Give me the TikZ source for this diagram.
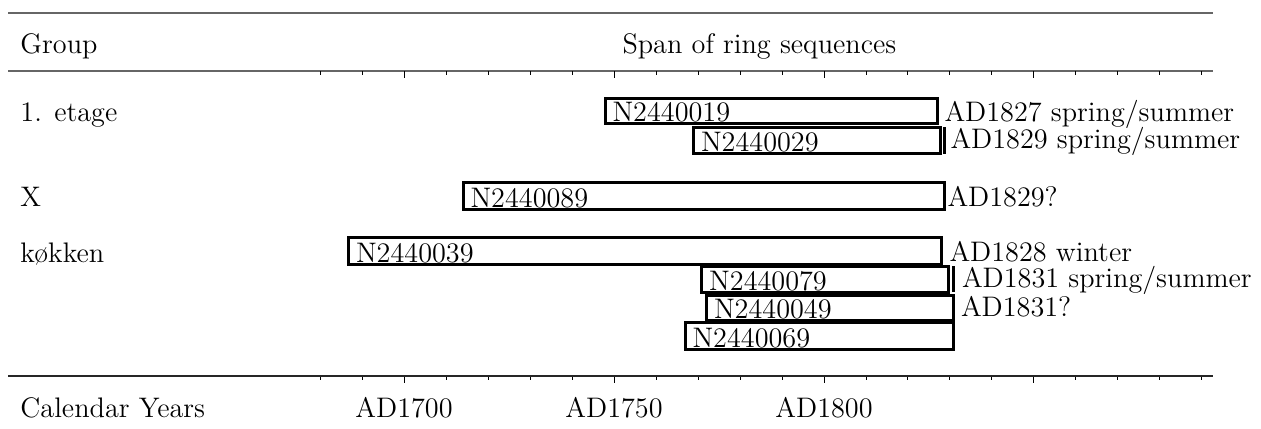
\documentclass[tikz,border=0pt]{standalone}
\usepackage{fontspec}
\usepackage{tikz}
\usetikzlibrary{positioning}
\tikzstyle{seqbox}=[draw=black, line width=1.2pt]
\tikzstyle{seqname}=[anchor=base west, inner sep=0pt]
\tikzstyle{datelabel}=[anchor=base west, inner sep=0pt]
\tikzstyle{grouplabel}=[anchor=base west, inner sep=0pt]
\tikzstyle{yearlabel}=[anchor=base, inner sep=0pt]
\tikzstyle{rulegray}=[draw=black!60, line width=0.6pt]
\tikzstyle{ruleblack}=[draw=black!85, line width=0.6pt]
\tikzstyle{tick}=[line width=0.4pt]

\begin{document}
\begin{tikzpicture}[x=0.4pt, y=-0.4pt, font=\fontsize{11.3}{13}\selectfont]
\useasboundingbox (0,0) rectangle (1261,428);
%header
\draw[rulegray] (8,13) -- (1213,13);
\node[grouplabel] (group) at (20,53) {Group};
\node[grouplabel] (span) at (622,53) {Span of ring sequences};
\draw[rulegray] (8,71) -- (1213,71);
\foreach \i in {0,...,21}{
	\draw[tick] (320.4+41.97*\i,71) -- ++(0,4);
	\draw[tick] (320.4+41.97*\i,376) -- ++(0,4);
}
\foreach \i in {2,7,12,17}{
	\draw[tick] (320.4+41.97*\i,71) -- ++(0,7);
	\draw[tick] (320.4+41.97*\i,376) -- ++(0,7);
}
%groups
\node[grouplabel] (etage) at (20,121.5) {1. etage};
\node[grouplabel] (x) at (20,206) {X};
\node[grouplabel] (kokken) at (20,262) {køkken};
%sequences
\foreach \a/\b/\t/\u/\n in {605/937/98/123.5/19, 693.5/940/127/153.5/29, 463/944/182/209/89, 348.5/941.5/237/264.5/39, 701.7/948/266/292/79, 706.5/953/295/320.5/49, 685/953/322/349/69}{
	\draw[seqbox] (\a,\t) rectangle (\b,\u);
	\node[seqname] (n\n) at (\a+7,\u-2) {N24400\n};
}
\draw[seqbox] (944.5,127) -- (944.5,153.5);
\draw[seqbox] (953,266) -- (953,292);
\node[datelabel] (d19) at (944,121.5) {AD1827 spring/summer};
\node[datelabel] (d29) at (950,148.5) {AD1829 spring/summer};
\node[datelabel] (d89) at (947,206) {AD1829?};
\node[datelabel] (d39) at (949,261.5) {AD1828 winter};
\node[datelabel] (d79) at (961.5,287) {AD1831 spring/summer};
\node[datelabel] (d49) at (960.5,316.5) {AD1831?};
%axis
\draw[ruleblack] (8,376) -- (1213,376);
\node[grouplabel] (cal) at (20,417) {Calendar Years};
\node[yearlabel] (y1700) at (404,417) {AD1700};
\node[yearlabel] (y1750) at (614,417) {AD1750};
\node[yearlabel] (y1800) at (824,417) {AD1800};
\end{tikzpicture}
\end{document}
